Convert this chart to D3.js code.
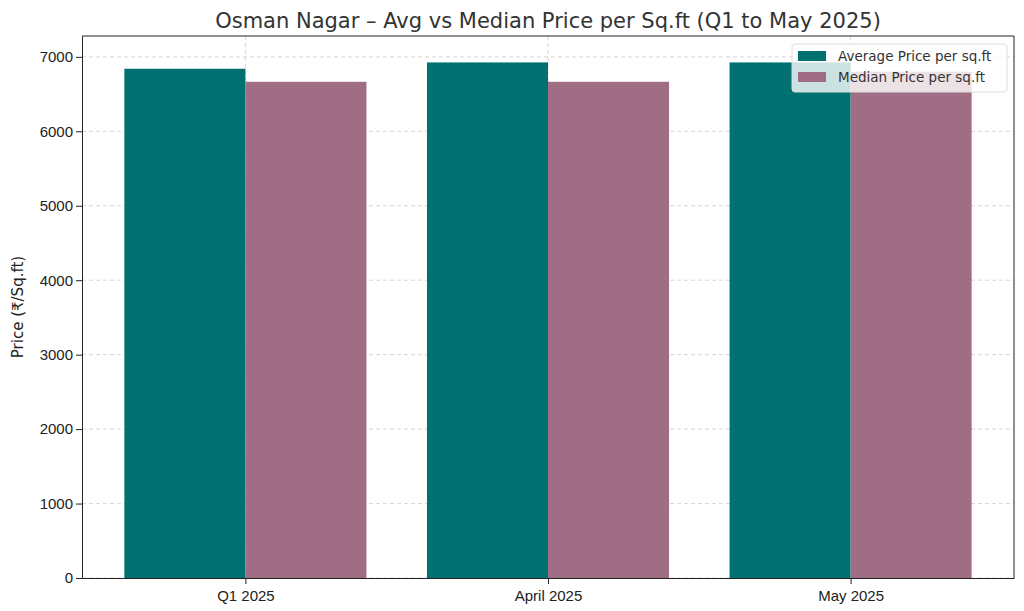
<!DOCTYPE html>
<html><head><meta charset="utf-8">
<script src="https://cdn.jsdelivr.net/npm/d3@7"></script>
<style>body{margin:0;background:#fff}svg{font-family:"DejaVu Sans",sans-serif}</style>
</head><body><div id="chart"></div>
<script>
let categories = ["Q1 2025", "April 2025", "May 2025"];
let avgPrice = [6840, 6925, 6925];
let medianPrice = [6665, 6665, 6800];
let yTicks = [0, 1000, 2000, 3000, 4000, 5000, 6000, 7000];

let width = 1024, height = 611;
let margin = { top: 36, right: 10, bottom: 33, left: 82 };

let x = d3.scaleLinear().domain([-0.54, 2.54]).range([margin.left, width - margin.right]);
let y = d3.scaleLinear().domain([0, 7280]).range([height - margin.bottom, margin.top]);

let svg = d3.select("#chart").append("svg").attr("width", width).attr("height", height);

// grid
svg.append("g").selectAll("line").data(yTicks).join("line")
    .attr("x1", margin.left).attr("x2", width - margin.right)
    .attr("y1", d => y(d)).attr("y2", d => y(d))
    .attr("stroke", "#ccc").attr("stroke-dasharray", "4,3").attr("stroke-width", 0.8);
svg.append("g").selectAll("line").data(categories).join("line")
    .attr("x1", (d, i) => x(i)).attr("x2", (d, i) => x(i))
    .attr("y1", margin.top).attr("y2", height - margin.bottom)
    .attr("stroke", "#ccc").attr("stroke-dasharray", "4,3").attr("stroke-width", 0.8);

let bw = x(0.4) - x(0);
svg.append("g").attr("fill", "#007070").selectAll("rect").data(avgPrice).join("rect")
    .attr("x", (d, i) => x(i - 0.4)).attr("width", bw)
    .attr("y", d => y(d)).attr("height", d => y(0) - y(d));
svg.append("g").attr("fill", "#a06e84").selectAll("rect").data(medianPrice).join("rect")
    .attr("x", (d, i) => x(i)).attr("width", bw)
    .attr("y", d => y(d)).attr("height", d => y(0) - y(d));

// axes
svg.append("g").attr("transform", `translate(0,${height - margin.bottom})`)
    .call(d3.axisBottom(x).tickValues([0, 1, 2]).tickFormat(i => categories[i]).tickSizeOuter(0))
    .call(g => g.selectAll("text").attr("font-size", 15).attr("fill", "#222").attr("dy", "0.9em"))
    .call(g => g.selectAll("line,path").attr("stroke", "#222"));
svg.append("g").attr("transform", `translate(${margin.left},0)`)
    .call(d3.axisLeft(y).tickValues(yTicks).tickFormat(d3.format("d")).tickSizeOuter(0))
    .call(g => g.selectAll("text").attr("font-size", 15).attr("fill", "#222"))
    .call(g => g.selectAll("line,path").attr("stroke", "#222"));
svg.append("line").attr("x1", width - margin.right).attr("x2", width - margin.right)
    .attr("y1", margin.top).attr("y2", height - margin.bottom).attr("stroke", "#222");
svg.append("line").attr("x1", margin.left).attr("x2", width - margin.right)
    .attr("y1", margin.top).attr("y2", margin.top).attr("stroke", "#222");

svg.append("text").attr("x", 548).attr("y", 28).attr("text-anchor", "middle")
    .attr("font-size", 21).attr("fill", "#333")
    .text("Osman Nagar – Avg vs Median Price per Sq.ft (Q1 to May 2025)");
svg.append("text").attr("transform", "translate(23,307) rotate(-90)").attr("text-anchor", "middle")
    .attr("font-size", 15).attr("fill", "#222").text("Price (₹/Sq.ft)");

// legend
let lg = svg.append("g").attr("transform", "translate(792,44)");
lg.append("rect").attr("width", 215).attr("height", 48).attr("rx", 3)
    .attr("fill", "rgba(255,255,255,0.8)").attr("stroke", "#ddd");
[["Average Price per sq.ft", "#007070"], ["Median Price per sq.ft", "#a06e84"]].forEach((d, i) => {
    lg.append("rect").attr("x", 6).attr("y", 7 + i * 21).attr("width", 28).attr("height", 10).attr("fill", d[1]);
    lg.append("text").attr("x", 46).attr("y", 17 + i * 21).attr("font-size", 13.5).attr("fill", "#333").text(d[0]);
});
</script></body></html>
